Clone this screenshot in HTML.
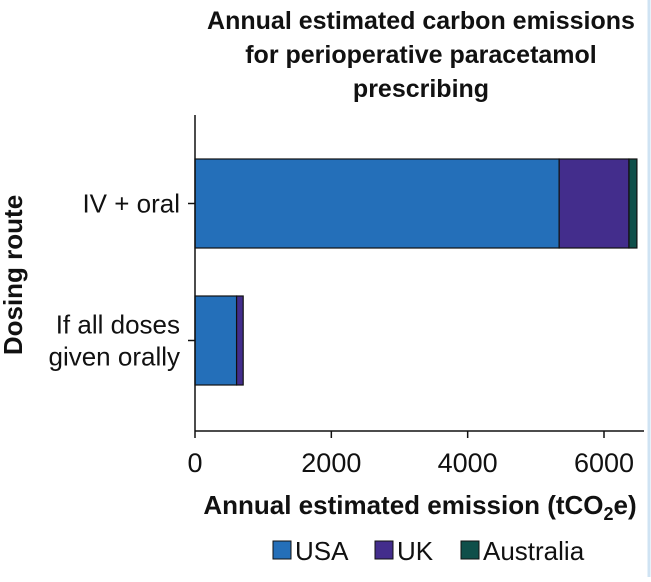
<!DOCTYPE html>
<html><head><meta charset="utf-8"><style>
body{margin:0;background:#fff;width:651px;height:577px;overflow:hidden}
svg{font-family:"Liberation Sans",Arial,sans-serif}
</style></head><body>
<svg width="651" height="577">
<line x1="649" y1="0" x2="649" y2="577" stroke="#cfe3f3" stroke-width="3"/>
<g font-weight="bold" font-size="25" text-anchor="middle" fill="#111">
<text x="421" y="29">Annual estimated carbon emissions</text>
<text x="421" y="63">for perioperative paracetamol</text>
<text x="421" y="97">prescribing</text>
</g>
<text transform="translate(22,275) rotate(-90)" text-anchor="middle" font-weight="bold" font-size="26" fill="#111">Dosing route</text>
<text x="420" y="514" text-anchor="middle" font-weight="bold" font-size="26" fill="#111">Annual estimated emission (tCO<tspan font-size="18" dy="6">2</tspan><tspan dy="-6">e)</tspan></text>
<g id="plot"></g>
<g id="legend" font-size="26" fill="#111"></g>
</svg>
<script>
const categories=["IV + oral","If all doses given orally"];
const usa=[5342,610];
const uk=[1024,97];
const australia=[117,0];
const xTicks=[0,2000,4000,6000];
const seriesNames=["USA","UK","Australia"];
const colors=["#246fb9","#432d8c","#0f4f4a"];
const NS="http://www.w3.org/2000/svg";
const x0=195,k=(604-195)/6000;
const xs=v=>x0+v*k;
const rowTop=[159,296],barH=89;
const g=document.getElementById('plot');
function mk(t,a,p){const e=document.createElementNS(NS,t);for(const q in a)e.setAttribute(q,a[q]);(p||g).appendChild(e);return e;}
const series=[usa,uk,australia];
categories.forEach((c,i)=>{
 let acc=0;
 series.forEach((s,j)=>{
  if(s[i]<=0)return;
  const r=mk('rect',{x:xs(acc),y:rowTop[i],width:xs(acc+s[i])-xs(acc),height:barH,fill:colors[j],stroke:'#111','stroke-width':1.2});
  
  
  acc+=s[i];
 });
 const yc=rowTop[i]+barH/2;
 mk('line',{x1:188,y1:yc,x2:195,y2:yc,stroke:'#111','stroke-width':1.5});
 const lines=i==0?[c]:["If all doses","given orally"];
 lines.forEach((ln,m)=>{
  const t=mk('text',{x:180,y:yc+9+(m-(lines.length-1)/2)*32,'text-anchor':'end','font-size':26,fill:'#111'});
  t.textContent=ln;
  
  
 });
});
mk('line',{x1:195,y1:115,x2:195,y2:431,stroke:'#111','stroke-width':1.5});
mk('line',{x1:195,y1:431,x2:644,y2:431,stroke:'#111','stroke-width':1.5});
xTicks.forEach(v=>{
 mk('line',{x1:xs(v),y1:431,x2:xs(v),y2:438,stroke:'#111','stroke-width':1.5});
 const t=mk('text',{x:xs(v),y:472,'text-anchor':'middle','font-size':27,fill:'#111'});
 t.textContent=v;
 
 
});
const lg=document.getElementById('legend');
const lx=[273,375,461];
seriesNames.forEach((n,j)=>{
 const r=mk('rect',{x:lx[j],y:541,width:18,height:18,fill:colors[j],stroke:'#111','stroke-width':1},lg);
 
 
 const t=mk('text',{x:lx[j]+22,y:560},lg);
 t.textContent=n;
 
 
});
</script>
</body></html>
